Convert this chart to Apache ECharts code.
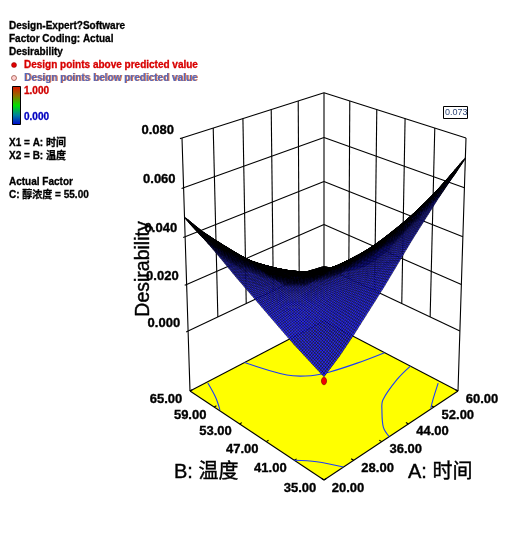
<!DOCTYPE html><html><head><meta charset="utf-8"><style>html,body{margin:0;padding:0;background:#fff}#c{width:520px;height:537px}</style>
<script src="https://cdn.jsdelivr.net/npm/echarts@6/dist/echarts.min.js"></script></head><body><div id="c"></div>
<script>
// ---- data ----
const factorA = [20,24,28,32,36,40,44,48,52,56,60];
const factorB = [35,38,41,44,47,50,53,56,59,62,65];
// Desirability x 10000: one row per factorB, one column per factorA
const desirability = [
 [140,185,240,300,360,425,490,550,610,665,720],
 [170,207,253,301,349,400,450,495,541,581,620],
 [200,228,263,298,333,370,406,437,469,496,520],
 [235,252,275,295,317,338,359,376,395,409,420],
 [270,274,283,288,295,302,308,311,318,321,320],
 [305,294,288,275,268,259,250,239,234,227,215],
 [340,315,296,268,248,226,205,185,171,158,140],
 [378,339,306,264,232,198,167,137,118,101,80],
 [415,362,317,261,219,175,135,100,78,61,40],
 [448,382,324,256,205,152,107,69,47,32,15],
 [480,400,330,250,190,130,80,40,20,10,0]
];
const tickA = [20,28,36,44,52,60];
const tickB = [35,41,47,53,59,65];
const tickD = [0,0.02,0.04,0.06,0.08];
const floorLevel = -0.0263;
// contour lines on the floor: [A,B] pairs
const contour020back = [[35.2,65],[38.5,57.4],[42,54.5],[45.9,53.1],[52.6,51.7],[60,50.6]];
const contour020front = [[20,41],[22.7,38.5],[25.2,35]];
const contour040right = [[60,44.9],[54,43.9],[46.4,41.8],[43.6,40.1],[39.6,37.1],[38.2,35]];
const contour060right = [[59.3,38.6],[53.8,36.3],[51.2,35.1]];
const contour040left = [[24.5,64.7],[22.3,60.7],[20.2,57.8]];
const designPoint = [[20,35,0.0124]];
const calloutValue = '0.073';

// ---- perspective view of the cube, derived from the frame ----
function project(A,B,D){
  const u=(A-20)/40, v=(B-35)/30, s=u-v, d=u+v-1, Z=(D+0.0263)/0.1063;
  const w=1+0.1195*d-0.0563*Z;
  return [324+134*s/w,(391-31.6*d-260.8*Z)/w];
}
// ---- derived tables ----
const segs=[];
tickD.forEach(D=>{segs.push([20,65,D,60,65,D]);segs.push([60,35,D,60,65,D]);segs.push([19.5,65,D,20,65,D]);});
tickA.forEach(A=>{ if(A>20&&A<60) segs.push([A,65,0,A,65,0.08]); });
tickB.forEach(B=>{ if(B>35&&B<65) segs.push([60,B,0,60,B,0.08]); });
segs.push([20,65,floorLevel,20,65,0.08]);
segs.push([60,35,floorLevel,60,35,0.08]);
segs.push([60,65,0,60,65,0.08]);
const floorEdges=[[20,35,60,35],[60,35,60,65],[60,65,20,65],[20,65,20,35]];
const floorTicks=[];
tickA.forEach(A=>floorTicks.push([A,35,A,35.5]));
tickB.forEach(B=>floorTicks.push([20,B,20.6,B]));
const cells=[];
for(let j=0;j<factorB.length-1;j++)for(let i=0;i<factorA.length-1;i++)cells.push([i,j,i+j]);
cells.sort((a,b)=>b[2]-a[2]);
const lineStyle={stroke:'#000',lineWidth:1.1,fill:null};
const MESH=10;
function P(api,A,B,D){const p=project(A,B,D);return api.coord(p);}
const segmentItem=(params,api)=>{
  const a=P(api,api.value(0),api.value(1),api.value(2)),b=P(api,api.value(3),api.value(4),api.value(5));
  return {type:'line',shape:{x1:a[0],y1:a[1],x2:b[0],y2:b[1]},style:lineStyle,silent:true};
};
const flatSegItem=(params,api)=>{
  const a=P(api,api.value(0),api.value(1),floorLevel),b=P(api,api.value(2),api.value(3),floorLevel);
  return {type:'line',shape:{x1:a[0],y1:a[1],x2:b[0],y2:b[1]},style:lineStyle,silent:true};
};
function contourSeries(pts){
  return {type:'custom',coordinateSystem:'cartesian2d',clip:false,silent:true,data:[0],
    renderItem:(p,api)=>({type:'polyline',shape:{points:pts.map(q=>P(api,q[0],q[1],floorLevel)),smooth:0.35},
      style:{stroke:'#1c3cf8',lineWidth:1.1,fill:null}})};
}
function quadArea(q){let a=0;for(let k=0;k<4;k++){const m=q[k],n=q[(k+1)%4];a+=m[0]*n[1]-n[0]*m[1];}return Math.abs(a)/2;}
function meshItem(params,api){
  const i=api.value(0),j=api.value(1);
  const A0=factorA[i],A1=factorA[i+1],B0=factorB[j],B1=factorB[j+1];
  const z00=desirability[j][i]/1e4,z10=desirability[j][i+1]/1e4,z01=desirability[j+1][i]/1e4,z11=desirability[j+1][i+1]/1e4;
  const at=(a,b)=>{const D=(1-a)*(1-b)*z00+a*(1-b)*z10+(1-a)*b*z01+a*b*z11;return P(api,A0+(A1-A0)*a,B0+(B1-B0)*b,D);};
  const children=[];
  for(let y=MESH-1;y>=0;y--)for(let x=MESH-1;x>=0;x--){
    const q=[at(x/MESH,y/MESH),at((x+1)/MESH,y/MESH),at((x+1)/MESH,(y+1)/MESH),at(x/MESH,(y+1)/MESH)];
    const lw=Math.min(1.2,Math.max(0.42,0.42+(2.0-quadArea(q))*0.7));
    children.push({type:'polygon',shape:{points:q},style:{fill:'#2424f4',stroke:'#000',lineWidth:lw}});
  }
  return {type:'group',children,silent:true};
}
const labelFont='bold 13px "Liberation Sans"';
const smear={stroke:'#000',lineWidth:0.35};
function labelSeries(values,toPoint,dx,dy,align){
  return {type:'custom',coordinateSystem:'cartesian2d',clip:false,silent:true,data:values.map(v=>[v]),
    renderItem:(p,api)=>{const v=api.value(0),q=P(api,...toPoint(v));
      return {type:'text',x:q[0]+dx,y:q[1]+dy,style:Object.assign({text:v.toFixed(toPoint.dec),font:labelFont,fill:'#000',align:align,verticalAlign:'middle'},smear)};}};
}
const ptA=v=>[v,35,floorLevel];ptA.dec=2;
const ptB=v=>[20,v,floorLevel];ptB.dec=2;
const ptD=v=>[20,65,v];ptD.dec=3;

const smallFont='bold 10px "Liberation Sans","Noto Sans CJK SC"';
const txt=(x,y,text,fill,font,w)=>({type:'text',x,y,silent:true,style:{text,fill:fill||'#000',font:font||smallFont,verticalAlign:'middle',align:'left',stroke:fill||'#000',lineWidth:w===undefined?0.3:w}});
const bigFont='20px "Liberation Sans","Noto Sans CJK SC"';
const legend=[
 txt(9,26,'Design-Expert?Software'),
 txt(9,39,'Factor Coding: Actual'),
 txt(9,52,'Desirability'),
 {type:'circle',shape:{cx:14,cy:65,r:2.5},style:{fill:'#e00000',stroke:'#800000',lineWidth:0.5},silent:true},
 txt(24,65,'Design points above predicted value','#d80000'),
 {type:'circle',shape:{cx:14,cy:78,r:2.5},style:{fill:'#ffd0d0',stroke:'#904030',lineWidth:0.7},silent:true},
 txt(25,78,'Design points below predicted value','#e07850',smallFont,0),
 txt(24,78,'Design points below predicted value','#5868b8',smallFont,0),
 {type:'rect',shape:{x:12.5,y:86.5,width:8,height:38},silent:true,style:{stroke:'#000',lineWidth:1,fill:{type:'linear',x:0,y:0,x2:0,y2:1,colorStops:[
   {offset:0,color:'#e01000'},{offset:0.25,color:'#907000'},{offset:0.5,color:'#00e000'},{offset:0.75,color:'#0080a0'},{offset:1,color:'#0000d0'}]}}},
 txt(24,91,'1.000','#d00000'),
 txt(24,117,'0.000','#0000c0'),
 txt(9,143,'X1 = A: 时间'),
 txt(9,156,'X2 = B: 温度'),
 txt(9,182,'Actual Factor'),
 txt(9,195,'C: 醇浓度 = 55.00'),
 txt(174,472,'B: 温度','#000',bigFont,0.4),
 txt(408,472,'A: 时间','#000',bigFont,0.4),
 {type:'text',x:144,y:269,rotation:Math.PI/2,silent:true,style:{text:'Desirability',font:'19.5px "Liberation Sans"',fill:'#000',stroke:'#000',lineWidth:0.4,align:'center',verticalAlign:'middle'}},
 {type:'rect',shape:{x:443.5,y:106.5,width:24,height:12},silent:true,style:{fill:'#fff',stroke:'#000',lineWidth:1}},
 txt(445,112.5,calloutValue,'#304878','9px "Liberation Sans"',0),
];
const chart=echarts.init(document.getElementById('c'),null,{renderer:'canvas'});
chart.setOption({
 animation:false,backgroundColor:'#fff',
 grid:{left:0,right:0,top:0,bottom:0},
 xAxis:{type:'value',min:0,max:520,show:false},
 yAxis:{type:'value',min:0,max:537,inverse:true,show:false},
 tooltip:{show:false},
 graphic:{elements:legend},
 series:[
  {type:'custom',coordinateSystem:'cartesian2d',clip:false,silent:true,data:[0],
   renderItem:(p,api)=>({type:'polygon',shape:{points:[[20,35],[60,35],[60,65],[20,65]].map(q=>P(api,q[0],q[1],floorLevel))},style:{fill:'#ffff00',stroke:null}})},
  {type:'custom',coordinateSystem:'cartesian2d',clip:false,silent:true,data:segs,renderItem:segmentItem},
  {type:'custom',coordinateSystem:'cartesian2d',clip:false,silent:true,data:floorEdges,renderItem:flatSegItem},
  {type:'custom',coordinateSystem:'cartesian2d',clip:false,silent:true,data:floorTicks,renderItem:flatSegItem},
  contourSeries(contour020back),contourSeries(contour020front),contourSeries(contour040right),contourSeries(contour060right),contourSeries(contour040left),
  {type:'custom',coordinateSystem:'cartesian2d',clip:false,silent:true,data:cells,renderItem:meshItem},
  {type:'custom',coordinateSystem:'cartesian2d',clip:false,silent:true,data:designPoint,
   renderItem:(p,api)=>{const q=P(api,api.value(0),api.value(1),api.value(2));
     return {type:'ellipse',shape:{cx:q[0],cy:q[1],rx:2.6,ry:3.8},style:{fill:'#f00000',stroke:'#700000',lineWidth:0.6}};}},
  labelSeries(tickA,ptA,24,8,'center'),
  labelSeries(tickB,ptB,-24,8,'center'),
  labelSeries(tickD,ptD,-8,-8,'right'),
 ]
});
</script></body></html>
